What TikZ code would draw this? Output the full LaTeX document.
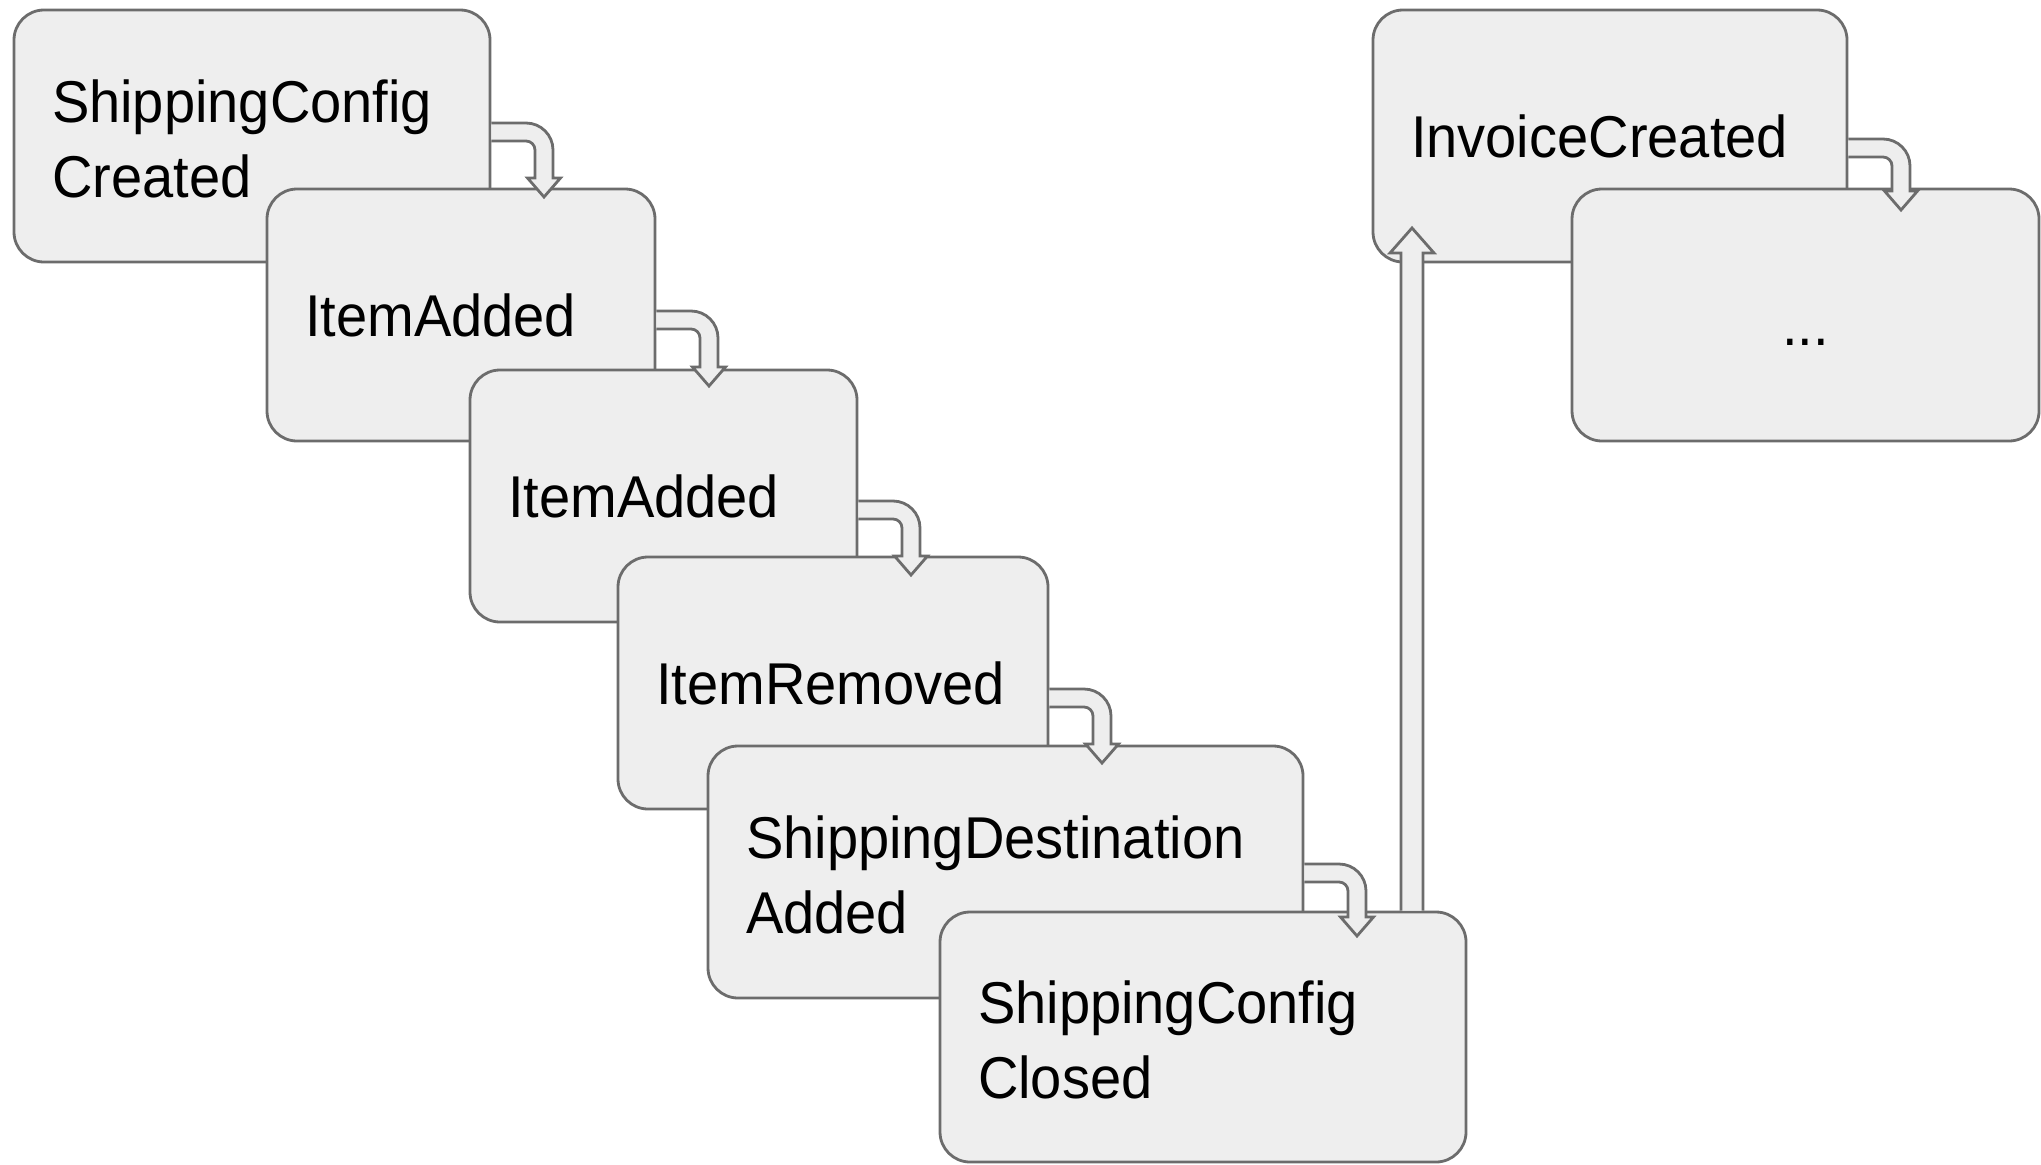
\documentclass[tikz,border=0pt]{standalone}
\usepackage{fontspec}
\setmainfont{Liberation Sans}[FakeStretch=0.95]
\usepackage{tikz}
\usetikzlibrary{calc}
\definecolor{relleno}{RGB}{238, 238, 238}
\definecolor{borde}{RGB}{108, 108, 108}
\tikzset{
    evento/.style={draw=borde, fill=relleno, line width=2.8pt, rounded corners=30pt, anchor=north west, outer sep=0pt, minimum height=252pt, inner xsep=38pt, inner ysep=0pt, align=left, font=\fontsize{59}{75}\selectfont},
    flecha/.style={draw=borde, fill=relleno, line width=2.8pt, line join=miter},
}

\begin{document}
\begin{tikzpicture}[x=1pt, y=-1pt]
        \useasboundingbox (0,0) rectangle (2041,1164);

        \node[evento, minimum width=476pt, text width=400pt] (e1) at (14,10) {\rule{0pt}{49pt}ShippingConfig\\Created};
        \node[evento, minimum width=388pt, text width=312pt] (e2) at (267,189) {ItemAdded};
        \node[evento, minimum width=387pt, text width=311pt] (e3) at (470,370) {ItemAdded};
        \node[evento, minimum width=430pt, text width=354pt] (e4) at (618,557) {ItemRemoved};
        \node[evento, minimum width=595pt, text width=519pt] (e5) at (708,746) {\rule{0pt}{49pt}ShippingDestination\\Added};
        \node[evento, minimum width=526pt, text width=450pt, minimum height=250pt] (e6) at (940,912) {\rule{0pt}{49pt}ShippingConfig\\Closed};

        \node[evento, minimum width=474pt, text width=398pt] (e7) at (1373,10) {InvoiceCreated};
        \node[evento, minimum width=467pt, text width=391pt, align=center] (e8) at (1572,189) {\rule{0pt}{60pt}...};

        % flechas dobladas: de un evento al siguiente
        \foreach \a/\b/\dy/\db in {e1/e2/-4/-11, e2/e3/5/-3, e3/e4/14/-1, e4/e5/15/-2, e5/e6/1/5, e7/e8/12/2}{
            \coordinate (s) at ($(\a.east)+(1.4,\dy)$);
            \coordinate (hb) at ($(\b.north -| \a.east)+(54,\db)$);
            \filldraw[flecha] ($(s)+(0,-9)$) [rounded corners=27pt] -- ($(s -| hb)+(9,-9)$)
                [sharp corners] -- ($(hb)+(9,0)$) -- ($(hb)+(16.5,0)$) -- ($(hb)+(0,19)$)
                -- ($(hb)+(-16.5,0)$) -- ($(hb)+(-9,0)$) [rounded corners=9pt] -- ($(s -| hb)+(-9,9)$)
                [sharp corners] -- ($(s)+(0,9)$);
        }

        % flecha larga hacia InvoiceCreated
        \coordinate (vb) at ($(e6.north east)+(-54,-1.4)$);
        \coordinate (vh) at ($(e7.south -| vb)+(0,-9)$);
        \filldraw[flecha] ($(vb)+(-11,0)$) -- ($(vh)+(-11,0)$) -- ($(vh)+(-22,0)$) -- ($(vh)+(0,-25)$)
            -- ($(vh)+(22,0)$) -- ($(vh)+(11,0)$) -- ($(vb)+(11,0)$);
    \end{tikzpicture}
\end{document}
